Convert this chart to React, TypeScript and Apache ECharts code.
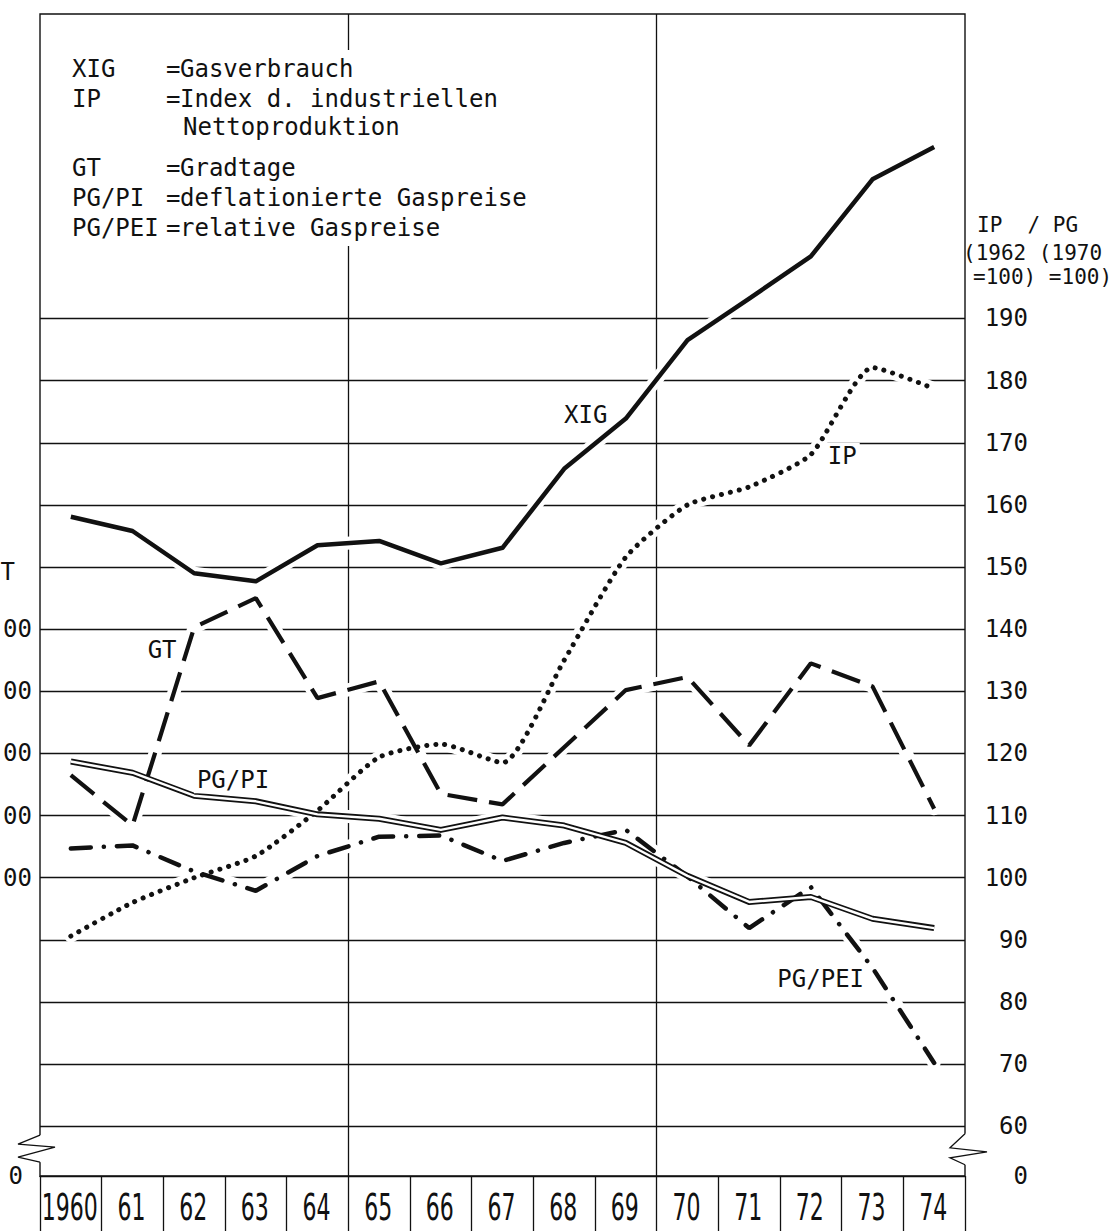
import React, { useEffect, useRef } from "react";
import * as echarts from "echarts";

// ---- data ----
const YEARS = ["1960", "61", "62", "63", "64", "65", "66", "67", "68", "69", "70", "71", "72", "73", "74"];
const XIG = [158.1, 155.8, 149.0, 147.7, 153.5, 154.2, 150.6, 153.1, 165.8, 173.9, 186.5, 193.2, 200.0, 212.4, 217.6];
const IP = [90.6, 96.0, 100.0, 103.5, 110.8, 119.4, 121.5, 118.5, 135.0, 151.6, 160.0, 162.9, 168.1, 182.1, 178.7];
const GT = [116.5, 108.4, 140.3, 145.0, 128.9, 131.6, 113.5, 111.8, 121.0, 130.2, 132.3, 121.3, 134.5, 130.8, 111.1];
const PG_PI = [118.7, 116.9, 113.2, 112.3, 110.2, 109.5, 107.7, 109.7, 108.4, 105.6, 100.3, 96.1, 96.9, 93.4, 91.9];
const PG_PEI = [104.7, 105.2, 101.0, 97.9, 103.5, 106.6, 106.8, 102.7, 105.6, 107.7, 100.2, 91.9, 98.5, 85.5, 70.2];

const RIGHT_TICKS = [60, 70, 80, 90, 100, 110, 120, 130, 140, 150, 160, 170, 180, 190];
const LEFT_TICKS = [100, 110, 120, 130, 140];
const AXIS_BREAK_ZERO = 52; // value shown as "0" below the axis break
const AXIS_TOP = 239;
const GRID_LINES = [60, 70, 80, 90, 100, 110, 120, 130, 140, 150, 160, 170, 180, 190];
const YEAR_DIVIDERS = [4.5, 9.5];

const CURVE_LABELS = [
  { name: "XIG", x: 8.35, y: 174.5 },
  { name: "IP", x: 12.51, y: 167.9 },
  { name: "GT", x: 1.48, y: 136.6 },
  { name: "PG/PI", x: 2.63, y: 115.7 },
  { name: "PG/PEI", x: 12.16, y: 83.7 },
];

const LEGEND_ROWS = [
  ["XIG", "Gasverbrauch"],
  ["IP", "Index d. industriellen"],
  ["", "Nettoproduktion"],
  ["GT", "Gradtage"],
  ["PG/PI", "deflationierte Gaspreise"],
  ["PG/PEI", "relative Gaspreise"],
];
const RIGHT_HEADER = ["IP  / PG", "(1962 (1970", "=100) =100)"];

// ---- styling ----
const INK = "#111";
const MONO = "'DejaVu Sans Mono', monospace";
const SANS = "'DejaVu Sans', sans-serif";

function buildOption(): any {
  const curves = [XIG, IP, GT, PG_PI, PG_PEI];
  const halos = curves.map((d) => ({
    type: "line",
    data: d,
    symbol: "none",
    silent: true,
    smooth: d === IP ? 0.2 : false,
    lineStyle: { color: "#fff", width: 13, cap: "round", join: "round" },
    z: 2,
  }));

  const legendY = [69, 99, 127, 168, 198, 228];
  const legendEls: any[] = [
    { type: "rect", shape: { x: 44, y: 50, width: 520, height: 196 }, style: { fill: "#fff" }, z: 10 },
  ];
  LEGEND_ROWS.forEach((row, i) => {
    const y = legendY[i];
    if (row[0]) {
      legendEls.push({
        type: "text", x: 72, y, z: 11,
        style: { text: row[0], font: `24px ${MONO}`, fill: INK, verticalAlign: "middle", textVerticalAlign: "middle" },
      });
      legendEls.push({
        type: "text", x: 166, y, z: 11,
        style: { text: "=", font: `24px ${MONO}`, fill: INK, verticalAlign: "middle", textVerticalAlign: "middle" },
      });
    }
    legendEls.push({
      type: "text", x: row[0] ? 180 : 183, y, z: 11,
      style: { text: row[1], font: `24px ${MONO}`, fill: INK, verticalAlign: "middle", textVerticalAlign: "middle" },
    });
  });
  const headerY = [225, 253, 277];
  const headerX = [977, 963, 973];
  RIGHT_HEADER.forEach((t, i) => {
    legendEls.push({
      type: "text", x: headerX[i], y: headerY[i], z: 11,
      style: { text: t, font: `21px ${MONO}`, fill: INK, verticalAlign: "middle", textVerticalAlign: "middle" },
    });
  });

  return {
    animation: false,
    backgroundColor: "#fff",
    grid: {
      left: 40, right: 152, top: 14, bottom: 55,
      containLabel: false,
      outerBoundsMode: "none",
      show: true, borderColor: INK, borderWidth: 1.4, backgroundColor: "transparent",
    },
    xAxis: [
      {
        type: "category",
        data: YEARS,
        boundaryGap: true,
        position: "bottom",
        axisLine: { show: true, lineStyle: { color: INK, width: 1.4 } },
        axisTick: { show: true, interval: 0, length: 55, inside: false, lineStyle: { color: INK, width: 1.3 } },
        axisLabel: { show: false },
        splitLine: { show: false },
      },
      { type: "value", min: -0.5, max: 14.5, show: false },
    ],
    yAxis: [
      {
        type: "value",
        position: "right",
        min: AXIS_BREAK_ZERO,
        max: AXIS_TOP,
        axisLine: { show: false },
        axisTick: { show: false },
        splitLine: { show: false },
        axisLabel: {
          customValues: [AXIS_BREAK_ZERO, ...RIGHT_TICKS],
          formatter: (v: number) => (v === AXIS_BREAK_ZERO ? "{z|0}" : String(v)),
          align: "right",
          margin: 63,
          fontSize: 24,
          fontFamily: MONO,
          color: INK,
          rich: { z: { fontSize: 24, fontFamily: MONO, color: INK, padding: [0, 0, 0, 0] } },
        },
      },
      {
        type: "value",
        position: "left",
        min: AXIS_BREAK_ZERO,
        max: AXIS_TOP,
        axisLine: { show: false },
        axisTick: { show: false },
        splitLine: { show: false },
        axisLabel: {
          customValues: [AXIS_BREAK_ZERO, ...LEFT_TICKS, 150],
          formatter: (v: number) => (v === AXIS_BREAK_ZERO ? "{z|0}" : v === 150 ? "{t|T}" : "00"),
          align: "right",
          margin: 8,
          fontSize: 24,
          fontFamily: MONO,
          color: INK,
          rich: {
            t: { fontSize: 24, fontFamily: MONO, color: INK, padding: [10, 17, 0, 0] },
            z: { fontSize: 24, fontFamily: MONO, color: INK, padding: [0, 9, 0, 0] },
          },
        },
      },
    ],
    graphic: { elements: legendEls },
    series: [
      {
        type: "line",
        xAxisIndex: 1,
        yAxisIndex: 0,
        data: [],
        silent: true,
        z: 1,
        markLine: {
          silent: true,
          z: 1,
          symbol: ["none", "none"],
          label: { show: false },
          lineStyle: { color: INK, width: 1.3, type: "solid" },
          data: [...GRID_LINES.map((v) => ({ yAxis: v })), ...YEAR_DIVIDERS.map((v) => ({ xAxis: v }))],
        },
      },
      ...halos,
      {
        name: "XIG", type: "line", data: XIG, symbol: "none", silent: true, z: 3,
        lineStyle: { color: INK, width: 4.5, join: "round" },
      },
      {
        name: "IP", type: "line", data: IP, symbol: "none", silent: true, z: 3, smooth: 0.2,
        lineStyle: { color: INK, width: 5, type: [0.1, 9], cap: "round" },
      },
      {
        name: "GT", type: "line", data: GT, symbol: "none", silent: true, z: 3,
        lineStyle: { color: INK, width: 4.2, type: [30, 12], cap: "butt" },
      },
      {
        name: "PG/PI", type: "line", data: PG_PI, symbol: "none", silent: true, z: 3,
        lineStyle: { color: INK, width: 6, join: "round" },
      },
      {
        name: "PG/PI inner", type: "line", data: PG_PI, symbol: "none", silent: true, z: 4,
        lineStyle: { color: "#fff", width: 2.4, join: "round" },
      },
      {
        name: "PG/PEI", type: "line", data: PG_PEI, symbol: "none", silent: true, z: 3,
        lineStyle: { color: INK, width: 4.5, type: [20, 13, 0.1, 13], cap: "round" },
      },
      {
        type: "scatter",
        xAxisIndex: 1,
        yAxisIndex: 0,
        silent: true,
        z: 5,
        symbolSize: 1,
        itemStyle: { color: "rgba(0,0,0,0)", opacity: 1 },
        data: CURVE_LABELS.map((a) => ({ name: a.name, value: [a.x, a.y] })),
        label: {
          show: true,
          position: "inside",
          formatter: "{b}",
          fontSize: 24,
          fontFamily: MONO,
          color: INK,
          opacity: 1,
          backgroundColor: "#fff",
          padding: [1, 3],
        },
      },
      {
        // year labels under the axis, tall and narrow like the original lettering
        type: "custom",
        xAxisIndex: 0,
        yAxisIndex: 0,
        silent: true,
        z: 6,
        clip: false,
        data: YEARS.map((_, i) => [i, AXIS_BREAK_ZERO]),
        renderItem: (params: any, api: any) => {
          const p = api.coord([api.value(0), api.value(1)]);
          return {
            type: "text",
            x: p[0] - 1,
            y: p[1] + 31,
            scaleX: 0.58,
            style: {
              text: YEARS[params.dataIndex],
              font: `38px ${SANS}`,
              fill: INK,
              align: "center",
              verticalAlign: "middle",
              textAlign: "center",
              textVerticalAlign: "middle",
            },
          };
        },
      },
      {
        type: "custom",
        xAxisIndex: 1,
        yAxisIndex: 0,
        silent: true,
        z: 6,
        clip: false,
        data: [[0, 56.4]],
        renderItem: (_params: any, api: any) => {
          const l = api.coord([-0.5, 56.4]);
          const r = api.coord([14.5, 56.3]);
          const xl = l[0], yl = l[1], xr = r[0], yr = r[1];
          const st = { stroke: INK, lineWidth: 1.3, fill: null };
          return {
            type: "group",
            children: [
              { type: "rect", shape: { x: xl - 3, y: yl - 13.5, width: 6, height: 27 }, style: { fill: "#fff" } },
              {
                type: "polyline",
                shape: { points: [[xl, yl - 13.5], [xl - 22, yl - 4.5], [xl + 15, yl - 1.5], [xl - 22, yl + 8.5], [xl, yl + 13.5]] },
                style: st,
              },
              { type: "rect", shape: { x: xr - 3, y: yr - 15.5, width: 6, height: 31 }, style: { fill: "#fff" } },
              {
                type: "polyline",
                shape: { points: [[xr, yr - 15.5], [xr - 15, yr - 1.5], [xr + 22, yr + 2.5], [xr - 15, yr + 8.5], [xr, yr + 15.5]] },
                style: st,
              },
            ],
          };
        },
      },
    ],
  };
}

export default function App() {
  const ref = useRef<HTMLDivElement>(null);
  useEffect(() => {
    const chart = echarts.init(ref.current!, null, { renderer: "svg" });
    chart.setOption(buildOption());
    return () => chart.dispose();
  }, []);
  return (
    <div
      ref={ref}
      style={{ position: "absolute", left: 0, top: 0, width: 1117, height: 1231, background: "#fff" }}
    />
  );
}
